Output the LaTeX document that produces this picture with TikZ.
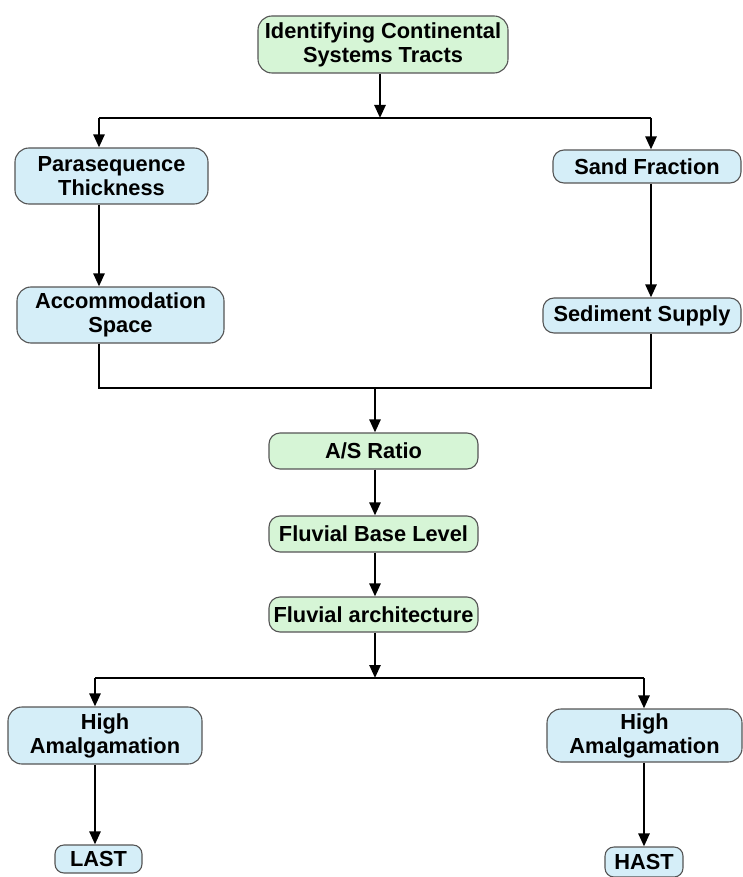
\documentclass[tikz,border=0pt]{standalone}
\usepackage{fontspec}
\setmainfont{Liberation Sans}
\usetikzlibrary{arrows.meta}
\definecolor{boxgreen}{RGB}{214,245,214}
\definecolor{boxblue}{RGB}{213,238,248}
\definecolor{boxline}{RGB}{85,85,85}
\begin{document}
\begin{tikzpicture}[x=1pt,y=-1pt,
    box/.style={draw=boxline,line width=1.1pt,rounded corners=14pt,align=center,
        inner sep=0pt,font=\fontsize{21.8}{24}\selectfont\bfseries},
    greenbox/.style={box,fill=boxgreen},
    bluebox/.style={box,fill=boxblue},
    link/.style={line width=2.5pt},
    arr/.style={link,-{Triangle[length=13pt,width=11pt]}}]
                    \useasboundingbox (0,0) rectangle (742,877);
                    \node[greenbox,minimum width=250,minimum height=57] (tracts) at (383,44.5) {Identifying Continental\\Systems Tracts};
                    \node[bluebox,minimum width=193,minimum height=56] (parathick) at (111.5,176) {Parasequence\\Thickness};
                    \node[bluebox,minimum width=207,minimum height=56] (accom) at (120.5,315) {Accommodation\\Space};
                    \node[bluebox,minimum width=188,minimum height=33,rounded corners=11pt] (sand) at (647,166.5) {Sand Fraction};
                    \node[bluebox,minimum width=198,minimum height=35,rounded corners=11pt] (supply) at (642,315.5) {Sediment Supply};
                    \node[greenbox,minimum width=209,minimum height=36,rounded corners=11pt] (asratio) at (373.5,451) {A/S Ratio};
                    \node[greenbox,minimum width=209,minimum height=36,rounded corners=11pt] (baselevel) at (373.5,534) {Fluvial Base Level};
                    \node[greenbox,minimum width=209,minimum height=35,rounded corners=11pt] (architecture) at (373.5,614.5) {Fluvial architecture};
                    \node[bluebox,minimum width=194,minimum height=57] (amalgleft) at (105,735.5) {High\\Amalgamation};
                    \node[bluebox,minimum width=195,minimum height=53] (amalgright) at (644.5,735.5) {High\\Amalgamation};
                    \node[bluebox,minimum width=87,minimum height=28,rounded corners=9pt] (last) at (98.5,859) {LAST};
                    \node[bluebox,minimum width=78,minimum height=30,rounded corners=9pt] (hast) at (644,862) {HAST};
                    \coordinate (splittop) at (380,118);
                    \coordinate (splitleft) at (99,118);
                    \coordinate (splitright) at (651,118);
                    \coordinate (joinmid) at (375,388);
                    \coordinate (joinleft) at (99,388);
                    \coordinate (joinright) at (651,388);
                    \coordinate (splitlow) at (375,678);
                    \coordinate (lowleft) at (95,678);
                    \coordinate (lowright) at (644,678);
                    \draw[arr] (tracts.south -| splittop)--(splittop);
                    \draw[link] (splitleft)--(splitright);
                    \draw[arr] (splitleft)--(splitleft |- parathick.north);
                    \draw[arr] (splitright)--(splitright |- sand.north);
                    \draw[arr] (parathick.south -| splitleft)--(accom.north -| splitleft);
                    \draw[arr] (sand.south -| splitright)--(supply.north -| splitright);
                    \draw[link] (accom.south -| joinleft)--(joinleft)--(joinright)--(supply.south -| joinright);
                    \draw[arr] (joinmid)--(joinmid |- asratio.north);
                    \draw[arr] (asratio.south -| joinmid)--(baselevel.north -| joinmid);
                    \draw[arr] (baselevel.south -| joinmid)--(architecture.north -| joinmid);
                    \draw[arr] (architecture.south -| splitlow)--(splitlow);
                    \draw[link] (lowleft)--(lowright);
                    \draw[arr] (lowleft)--(lowleft |- amalgleft.north);
                    \draw[arr] (lowright)--(lowright |- amalgright.north);
                    \draw[arr] (amalgleft.south -| lowleft)--(last.north -| lowleft);
                    \draw[arr] (amalgright.south -| lowright)--(hast.north -| lowright);
                \end{tikzpicture}
\end{document}
